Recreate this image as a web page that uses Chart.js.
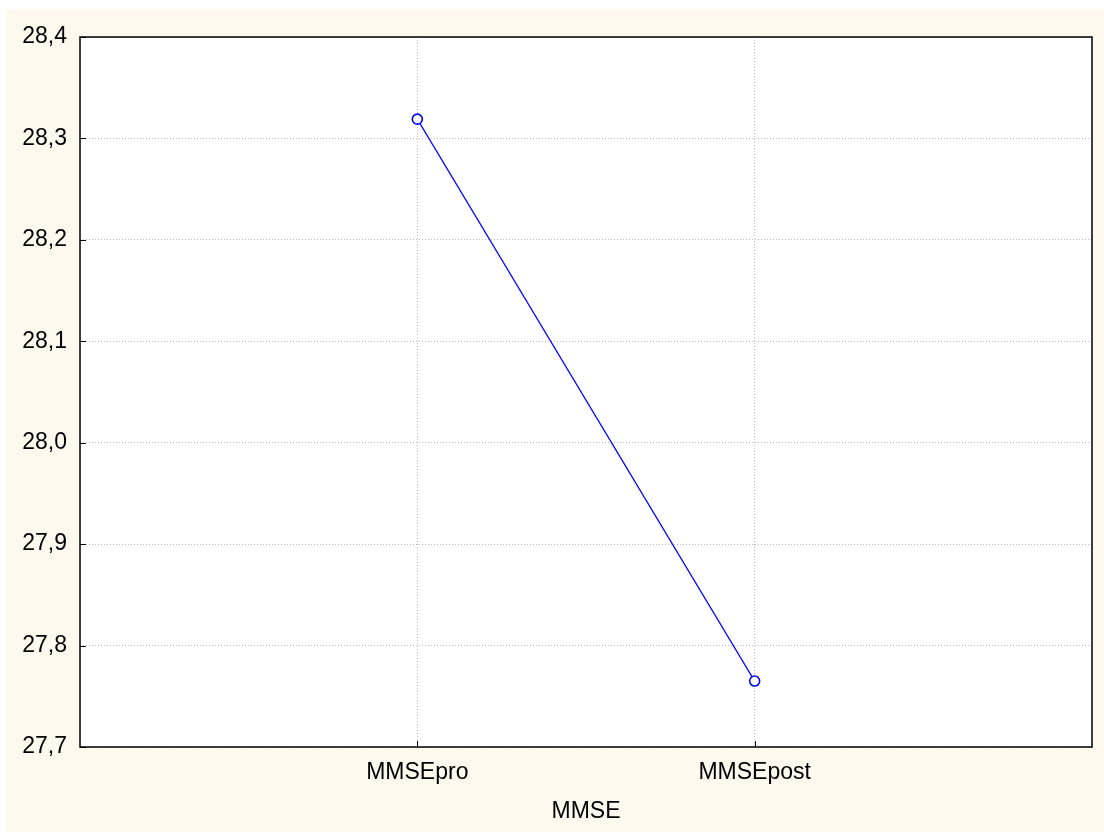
<!DOCTYPE html>
<html>
<head>
<meta charset="utf-8">
<script src="https://cdn.jsdelivr.net/npm/chart.js@4"></script>
<style>
  html, body { margin: 0; padding: 0; background: #fff; }
  #wrap { width: 1104px; height: 832px; }
</style>
</head>
<body>
<div id="wrap"><canvas id="chart" width="1104" height="832"></canvas></div>
<script>
// data
const categories = ['MMSEpro', 'MMSEpost'];
const meanValues = [28.319, 27.765];
const yTicks = [27.7, 27.8, 27.9, 28.0, 28.1, 28.2, 28.3, 28.4];
const xTitle = 'MMSE';

const FONT = "'Liberation Sans', Arial, sans-serif";
const fmt = v => v.toFixed(1).replace('.', ',');

// cream page with a thin white margin, white plot area, black frame, inward ticks
const frame = {
  id: 'frame',
  beforeDraw(chart) {
    const { ctx, chartArea: a } = chart;
    ctx.save();
    ctx.fillStyle = '#ffffff';
    ctx.fillRect(0, 0, chart.width, chart.height);
    ctx.fillStyle = '#fdf9ef';
    ctx.fillRect(6, 9, chart.width - 6, chart.height - 9);
    ctx.fillStyle = '#ffffff';
    ctx.fillRect(a.left, a.top, a.right - a.left, a.bottom - a.top);
    ctx.restore();
  },
  afterDraw(chart) {
    const { ctx, chartArea: a, scales } = chart;
    ctx.save();
    ctx.strokeStyle = '#000';
    ctx.lineWidth = 1.5;
    ctx.strokeRect(a.left, a.top, a.right - a.left, a.bottom - a.top);
    ctx.lineWidth = 1;
    ctx.beginPath();
    scales.y.ticks.forEach(t => {
      const y = Math.round(scales.y.getPixelForValue(t.value)) + 0.5;
      ctx.moveTo(a.left, y);
      ctx.lineTo(a.left + 6, y);
    });
    scales.x.ticks.forEach(t => {
      const x = Math.round(scales.x.getPixelForValue(t.value)) + 0.5;
      ctx.moveTo(x, a.bottom);
      ctx.lineTo(x, a.bottom - 6);
    });
    ctx.stroke();
    ctx.restore();
  }
};

new Chart(document.getElementById('chart'), {
  type: 'line',
  data: {
    datasets: [{
      data: meanValues.map((v, i) => ({ x: i + 1, y: v })),
      borderColor: '#0000ff',
      borderWidth: 1.2,
      pointRadius: 5,
      pointBorderWidth: 1.6,
      pointBackgroundColor: '#ffffff',
      pointBorderColor: '#0000ff',
      tension: 0
    }]
  },
  options: {
    responsive: false,
    animation: false,
    layout: { padding: { left: 0, top: 37, right: 12, bottom: 0 } },
    plugins: { legend: { display: false }, tooltip: { enabled: false } },
    scales: {
      x: {
        type: 'linear',
        min: 0,
        max: categories.length + 1,
        afterBuildTicks: s => { s.ticks = categories.map((c, i) => ({ value: i + 1 })); },
        afterFit: s => { s.height = 85; },
        border: { display: false, dash: [1, 2] },
        grid: { color: '#bdbdbd', drawTicks: false, lineWidth: 1 },
        ticks: {
          padding: 12,
          color: '#000',
          font: { family: FONT, size: 23 },
          callback: v => categories[v - 1] || ''
        },
        title: {
          display: true,
          text: xTitle,
          color: '#000',
          font: { family: FONT, size: 23 },
          padding: { top: 4, bottom: 7 }
        }
      },
      y: {
        min: 27.7,
        max: 28.4,
        afterBuildTicks: s => { s.ticks = yTicks.map(v => ({ value: v })); },
        afterFit: s => { s.width = 80; },
        border: { display: false, dash: [1, 2] },
        grid: { color: '#bdbdbd', drawTicks: false, lineWidth: 1 },
        ticks: {
          padding: 13,
          color: '#000',
          font: { family: FONT, size: 23 },
          callback: v => fmt(v)
        }
      }
    }
  },
  plugins: [frame]
});
</script>
</body>
</html>
